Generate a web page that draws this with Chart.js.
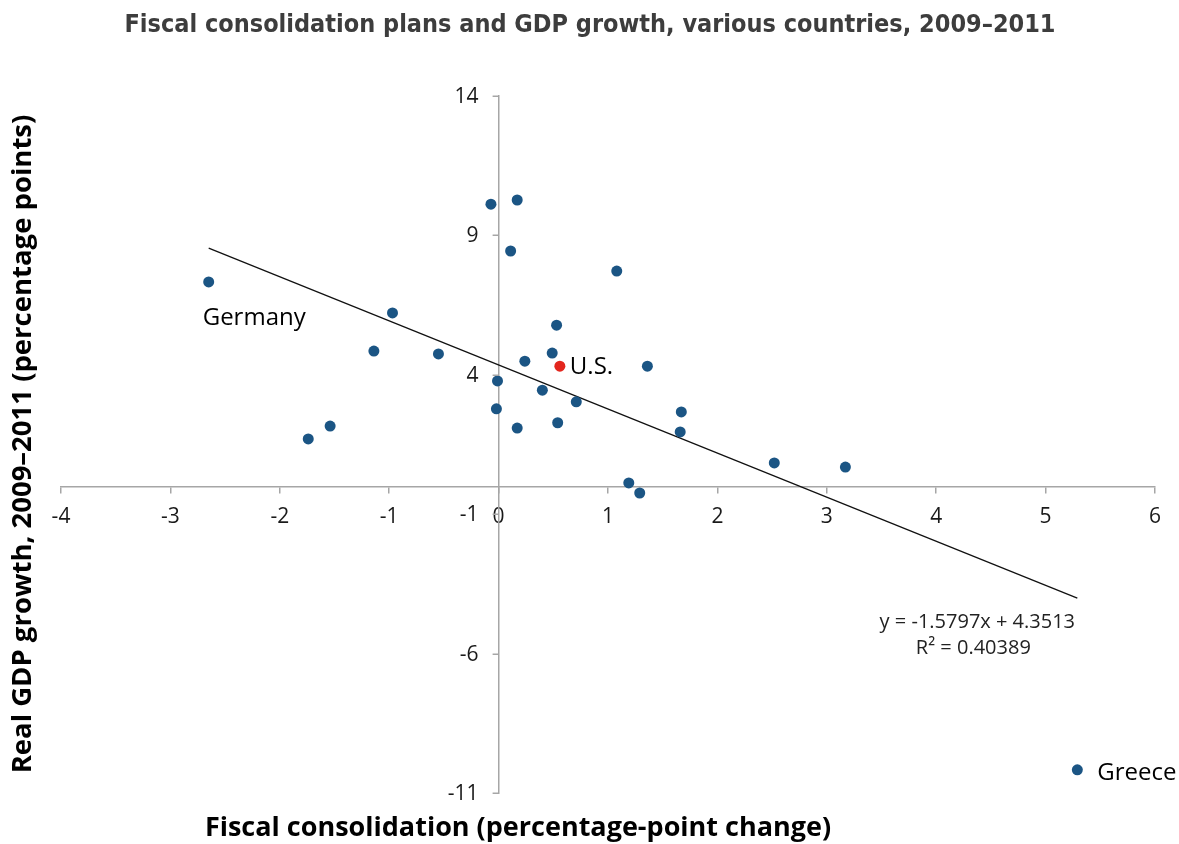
<!DOCTYPE html>
<html>
<head>
<meta charset="utf-8">
<script src="https://cdn.jsdelivr.net/npm/chart.js@4.4.0/dist/chart.umd.min.js"></script>
<style>
  html, body { margin: 0; padding: 0; background: #fff; }
  #wrap { width: 1179px; height: 844px; position: relative; }
</style>
</head>
<body>
<div id="wrap"><canvas id="chart"></canvas></div>
<script>
// values
const consolidation = [-2.65, -1.74, -1.54, -1.14, -0.97, -0.55, -0.07, 0.17, 0.11, -0.01, -0.02, 0.17, 0.24, 0.40, 0.49, 0.53, 0.54, 0.71, 1.08, 1.36, 1.19, 1.29, 1.67, 1.66, 2.52, 3.17, 5.29];
const growth = [7.33, 1.70, 2.16, 4.85, 6.22, 4.75, 10.12, 10.27, 8.44, 3.78, 2.78, 2.09, 4.49, 3.45, 4.78, 5.78, 2.28, 3.03, 7.72, 4.31, 0.12, -0.24, 2.67, 1.95, 0.84, 0.69, -10.17];
const countryNames = ['Germany', '', '', '', '', '', '', '', '', '', '', '', '', '', '', '', '', '', '', '', '', '', '', '', '', '', 'Greece'];
const usConsolidation = [0.56];
const usGrowth = [4.31];
const usName = 'U.S.';
// trend line ends, as drawn in the picture
const trendX = [-2.65, 5.29];
const trendY = [8.54, -4.01];
const equationText = ['y = -1.5797x + 4.3513', 'R² = 0.40389'];
const xTicks = [-4, -3, -2, -1, 0, 1, 2, 3, 4, 5, 6];
const yTicks = [-11, -6, -1, 4, 9, 14];

const chartTitle = 'Fiscal consolidation plans and GDP growth, various countries, 2009–2011';
const xTitle = 'Fiscal consolidation (percentage-point change)';
const yTitle = 'Real GDP growth, 2009–2011 (percentage points)';

function toPoints(xs, ys) {
  return xs.map((x, i) => ({ x: x, y: ys[i] }));
}

// chart.js puts y labels of a crossing axis right on the line, so they are drawn here
const yLabelPlugin = {
  id: 'yLabels',
  afterDraw(chart) {
    const ctx = chart.ctx;
    const ys = chart.scales.y;
    const ax = chart.scales.x.getPixelForValue(0);
    ctx.save();
    ctx.strokeStyle = '#a6a6a6';
    ctx.lineWidth = 1.5;
    ctx.fillStyle = '#1a1a1a';
    ctx.font = '21px "Open Sans"';
    ctx.textAlign = 'right';
    ctx.textBaseline = 'middle';
    ys.ticks.forEach(t => {
      const py = Math.round(ys.getPixelForValue(t.value)) + 0.25;
      ctx.beginPath();
      ctx.moveTo(ax - 6, py);
      ctx.lineTo(ax, py);
      ctx.stroke();
      ctx.fillText(String(t.value), ax - 20, py + 1);
    });
    ctx.restore();
  }
};

// texts that sit around the plot: titles, country names, equation
const textPlugin = {
  id: 'texts',
  afterDraw(chart) {
    const ctx = chart.ctx;
    const xs = chart.scales.x;
    const ys = chart.scales.y;
    ctx.save();
    ctx.textBaseline = 'middle';

    ctx.fillStyle = '#3d3d3d';
    ctx.textAlign = 'center';
    ctx.font = 'bold 25px "DejaVu Sans Condensed"';
    ctx.fillText(chartTitle, 590, 25);

    ctx.fillStyle = '#000';
    ctx.font = 'bold 27px "Open Sans"';
    ctx.fillText(xTitle, 518, 828);
    ctx.save();
    ctx.translate(23, 444);
    ctx.rotate(-Math.PI / 2);
    ctx.font = 'bold 27.5px "Open Sans"';
    ctx.fillText(yTitle, 0, 0);
    ctx.restore();

    ctx.font = '24px "Open Sans"';
    ctx.textAlign = 'left';
    countryNames.forEach((name, i) => {
      if (!name) return;
      const px = xs.getPixelForValue(consolidation[i]);
      const py = ys.getPixelForValue(growth[i]);
      if (name === 'Germany') ctx.fillText(name, px - 6, py + 36);
      else ctx.fillText(name, px + 20, py + 3);
    });
    ctx.fillText(usName, xs.getPixelForValue(usConsolidation[0]) + 10, ys.getPixelForValue(usGrowth[0]) + 1);

    const ex = xs.getPixelForValue(trendX[1]);
    const ey = ys.getPixelForValue(trendY[1]);
    ctx.font = '20px "Open Sans"';
    ctx.fillStyle = '#222';
    ctx.textAlign = 'center';
    ctx.fillText(equationText[0], ex - 100, ey + 24);
    ctx.fillText(equationText[1], ex - 104, ey + 50);
    ctx.restore();
  }
};

const ctx = document.getElementById('chart').getContext('2d');
new Chart(ctx, {
  type: 'scatter',
  data: {
    datasets: [
      {
        label: 'Countries',
        data: toPoints(consolidation, growth),
        backgroundColor: '#1b5584',
        borderWidth: 0,
        pointRadius: 5.5,
        order: 1
      },
      {
        label: 'U.S.',
        data: toPoints(usConsolidation, usGrowth),
        backgroundColor: '#e3261d',
        borderWidth: 0,
        pointRadius: 5.5,
        order: 0
      },
      {
        label: 'Trend',
        data: toPoints(trendX, trendY),
        showLine: true,
        borderColor: '#111',
        borderWidth: 1.3,
        pointRadius: 0,
        order: 2
      }
    ]
  },
  options: {
    responsive: true,
    maintainAspectRatio: false,
    animation: false,
    layout: { padding: { left: 61, right: 24, top: 96, bottom: 51 } },
    plugins: {
      legend: { display: false },
      tooltip: { enabled: false }
    },
    scales: {
      x: {
        type: 'linear',
        min: -4,
        max: 6,
        position: { y: 0 },
        afterBuildTicks: s => { s.ticks = xTicks.map(v => ({ value: v })); },
        ticks: { color: '#1a1a1a', font: { family: 'Open Sans', size: 21 }, padding: 12 },
        grid: { drawOnChartArea: false, drawTicks: true, tickLength: 6, color: '#a6a6a6', lineWidth: 1.5 },
        border: { color: '#a6a6a6', width: 1.5 }
      },
      y: {
        type: 'linear',
        min: -11,
        max: 14,
        position: { x: 0 },
        afterBuildTicks: s => { s.ticks = yTicks.map(v => ({ value: v })); },
        ticks: { display: false },
        grid: { drawOnChartArea: false, drawTicks: false },
        border: { color: '#a6a6a6', width: 1.5 }
      }
    }
  },
  plugins: [yLabelPlugin, textPlugin]
});
</script>
</body>
</html>
